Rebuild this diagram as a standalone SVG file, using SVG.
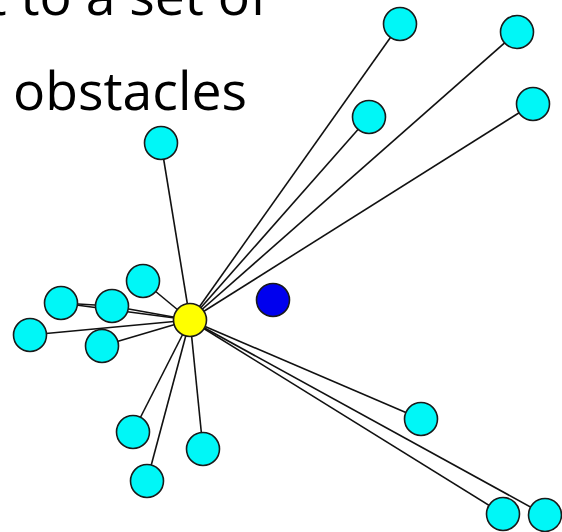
<svg xmlns="http://www.w3.org/2000/svg" width="562" height="532" viewBox="0 0 562 532">
<style>
.t{font-family:"Open Sans","Noto Sans",sans-serif;font-size:53.5px;fill:#000}
.e{stroke:#111;stroke-width:1.6;fill:none}
.n{stroke:#1a1a1a;stroke-width:1.6}
.c{fill:#00f7f7}
.y{fill:#ffff00}
.b{fill:#0000ee}
</style>
<rect width="562" height="532" fill="#fff"/>
<text class="t" x="268" y="15" text-anchor="end">t to a set of</text>
<text class="t" x="247" y="110" text-anchor="end">of<tspan dx="6"> obstacles</tspan></text>
<g id="connectors" class="e">
<line x1="190" y1="320" x2="400" y2="24"/>
<line x1="190" y1="320" x2="369" y2="117"/>
<line x1="190" y1="320" x2="517" y2="32"/>
<line x1="190" y1="320" x2="533" y2="104"/>
<line x1="190" y1="320" x2="161" y2="143"/>
<line x1="190" y1="320" x2="143" y2="281"/>
<line x1="190" y1="320" x2="61" y2="303"/>
<line x1="61" y1="303" x2="112" y2="306"/>
<line x1="190" y1="320" x2="112" y2="306"/>
<line x1="190" y1="320" x2="30" y2="335"/>
<line x1="190" y1="320" x2="102" y2="346"/>
<line x1="190" y1="320" x2="133" y2="432"/>
<line x1="190" y1="320" x2="147" y2="481"/>
<line x1="190" y1="320" x2="203" y2="449"/>
<line x1="190" y1="320" x2="421" y2="419"/>
<line x1="190" y1="320" x2="503" y2="514"/>
<line x1="190" y1="320" x2="545" y2="515"/>
</g>
<g id="n1"><circle class="n c" cx="400" cy="24" r="16.5"/></g>
<g id="n2"><circle class="n c" cx="369" cy="117" r="16.5"/></g>
<g id="n3"><circle class="n c" cx="517" cy="32" r="16.5"/></g>
<g id="n4"><circle class="n c" cx="533" cy="104" r="16.5"/></g>
<g id="n5"><circle class="n c" cx="161" cy="143" r="16.5"/></g>
<g id="n6"><circle class="n c" cx="143" cy="281" r="16.5"/></g>
<g id="n7"><circle class="n c" cx="61" cy="303" r="16.5"/></g>
<g id="n8"><circle class="n c" cx="112" cy="306" r="16.5"/></g>
<g id="n9"><circle class="n c" cx="30" cy="335" r="16.5"/></g>
<g id="n10"><circle class="n c" cx="102" cy="346" r="16.5"/></g>
<g id="n11"><circle class="n c" cx="133" cy="432" r="16.5"/></g>
<g id="n12"><circle class="n c" cx="147" cy="481" r="16.5"/></g>
<g id="n13"><circle class="n c" cx="203" cy="449" r="16.5"/></g>
<g id="n14"><circle class="n c" cx="421" cy="419" r="16.5"/></g>
<g id="n15"><circle class="n c" cx="503" cy="514" r="16.5"/></g>
<g id="n16"><circle class="n c" cx="545" cy="515" r="16.5"/></g>
<g id="obstacle"><circle class="n b" cx="273" cy="300" r="16.5"/></g>
<g id="robot"><circle class="n y" cx="190" cy="320" r="16.5"/></g>
</svg>
